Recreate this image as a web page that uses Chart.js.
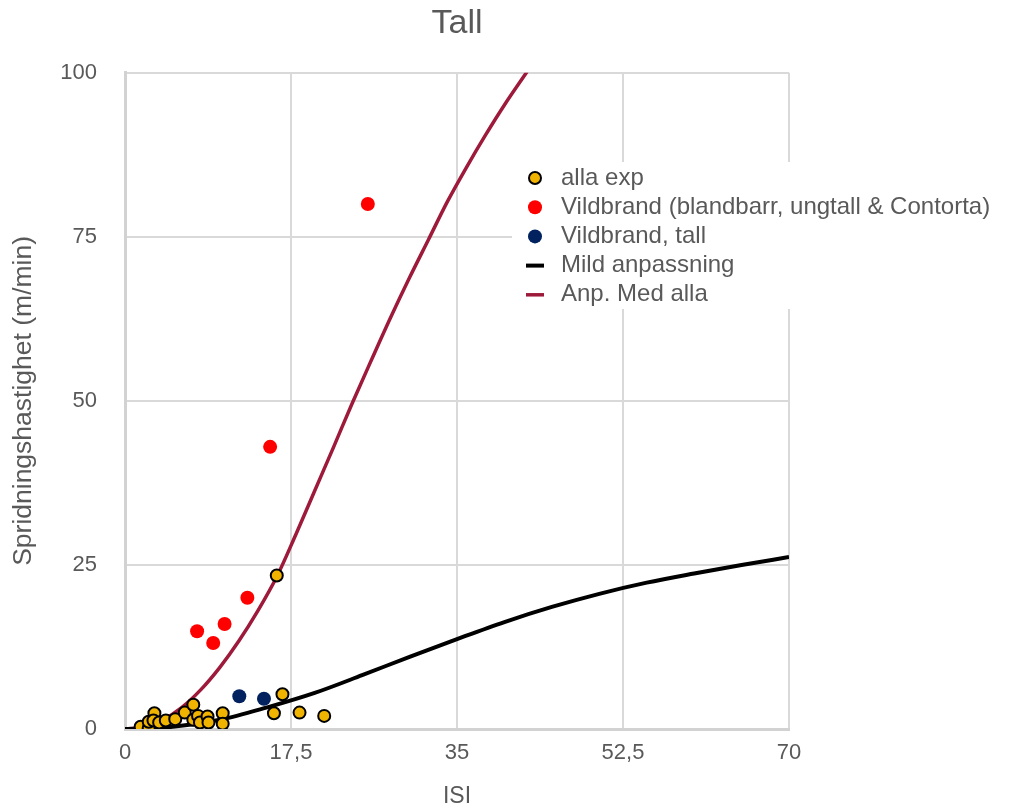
<!DOCTYPE html>
<html>
<head>
<meta charset="utf-8">
<script src="https://cdn.jsdelivr.net/npm/chart.js@4"></script>
<style>
  html, body { margin: 0; padding: 0; background: #fff; }
  #wrap { width: 1010px; height: 810px; }
</style>
</head>
<body>
<div id="wrap"><canvas id="chart" width="1010" height="810"></canvas></div>
<script>
// tick labels (Swedish decimal comma)
const xTicks = [0, 17.5, 35, 52.5, 70];
const xTickLabels = ['0', '17,5', '35', '52,5', '70'];
const yTicks = [0, 25, 50, 75, 100];

// alla exp
const allaX = [1.65, 2.5, 2.5, 3.1, 3.0, 3.6, 4.3, 5.3, 6.3, 7.2, 7.2, 7.7, 7.9, 8.7, 8.8, 10.3, 10.3, 15.7, 16.6, 18.4, 21.0, 16.0];
const allaY = [0.35, 0.15, 1.1, 2.4, 1.3, 1.0, 1.3, 1.5, 2.5, 3.7, 1.4, 2.0, 1.0, 1.9, 1.0, 2.4, 0.8, 2.4, 5.3, 2.5, 2.0, 23.4];

// Vildbrand (blandbarr, ungtall & Contorta)
const blandX = [25.6, 15.3, 12.9, 10.5, 7.6, 9.3];
const blandY = [80.0, 43.0, 20.0, 16.0, 14.9, 13.1];

// Vildbrand, tall
const tallX = [12.05, 14.65];
const tallY = [5.0, 4.6];

// Mild anpassning
const mildX = [0, 5, 10, 15, 20, 25, 30, 35, 40, 45, 50, 55, 60, 65, 70];
const mildY = [0, 0.35, 1.4, 3.3, 5.5, 8.2, 11.0, 13.7, 16.3, 18.6, 20.6, 22.3, 23.7, 25.0, 26.2];

// Anp. Med alla
const anpX = [0, 2, 4, 6, 8, 10, 12, 14, 16, 18, 20, 22, 24, 26, 28, 30, 32, 34, 36, 38, 40, 42.4];
const anpY = [0, 0.3, 1.4, 3.3, 6.0, 9.4, 13.4, 18.0, 23.2, 29.6, 36.3, 43.0, 49.8, 56.3, 62.7, 68.8, 74.6, 80.4, 85.6, 90.5, 95.1, 100.2];

const toPoints = (xs, ys) => xs.map((x, i) => ({ x: x, y: ys[i] }));

const textColor = '#595959';
const fontFamily = 'Helvetica, Arial, "Liberation Sans", sans-serif';

// legend drawn inside the plot with a white box, like the original
const boxLegend = {
  id: 'boxLegend',
  afterDraw(chart) {
    const ctx = chart.ctx;
    const left = 512, top = 162;
    ctx.save();
    ctx.fillStyle = '#ffffff';
    ctx.fillRect(left, top, 495, 147);
    ctx.font = '24px ' + fontFamily;
    ctx.textBaseline = 'middle';
    ctx.textAlign = 'left';
    chart.data.datasets.forEach((ds, i) => {
      const y = top + 16 + i * 29.2;
      const mx = 535;
      if (ds.showLine) {
        ctx.strokeStyle = ds.borderColor;
        ctx.lineWidth = ds.borderWidth;
        ctx.beginPath();
        ctx.moveTo(mx - 9, y);
        ctx.lineTo(mx + 9, y);
        ctx.stroke();
      } else {
        ctx.beginPath();
        ctx.arc(mx, y, ds.pointRadius, 0, Math.PI * 2);
        ctx.fillStyle = ds.backgroundColor;
        ctx.fill();
        if (ds.pointBorderWidth) {
          ctx.lineWidth = ds.pointBorderWidth;
          ctx.strokeStyle = ds.borderColor;
          ctx.stroke();
        }
      }
      ctx.fillStyle = textColor;
      ctx.fillText(ds.label, 561, y);
    });
    ctx.restore();
  }
};

new Chart(document.getElementById('chart'), {
  type: 'scatter',
  data: {
    datasets: [
      {
        label: 'alla exp',
        data: toPoints(allaX, allaY),
        backgroundColor: '#F0B400',
        borderColor: '#000000',
        pointRadius: 6,
        pointBorderWidth: 2,
        pointHoverRadius: 6,
      },
      {
        label: 'Vildbrand (blandbarr, ungtall & Contorta)',
        data: toPoints(blandX, blandY),
        backgroundColor: '#FF0000',
        borderColor: '#FF0000',
        pointRadius: 7,
        pointBorderWidth: 0,
      },
      {
        label: 'Vildbrand, tall',
        data: toPoints(tallX, tallY),
        backgroundColor: '#01215F',
        borderColor: '#01215F',
        pointRadius: 7,
        pointBorderWidth: 0,
      },
      {
        label: 'Mild anpassning',
        data: toPoints(mildX, mildY),
        showLine: true,
        borderColor: '#000000',
        backgroundColor: '#000000',
        borderWidth: 4,
        pointRadius: 0,
        cubicInterpolationMode: 'monotone',
      },
      {
        label: 'Anp. Med alla',
        data: toPoints(anpX, anpY),
        showLine: true,
        borderColor: '#9E1A3A',
        backgroundColor: '#9E1A3A',
        borderWidth: 3.5,
        pointRadius: 0,
        cubicInterpolationMode: 'monotone',
      },
    ],
  },
  options: {
    responsive: false,
    animation: false,
    layout: { padding: { left: 0, right: 221, top: 0, bottom: 0 } },
    plugins: {
      legend: { display: false },
      tooltip: { enabled: false },
      title: {
        display: true,
        text: 'Tall',
        fullSize: false,
        color: textColor,
        font: { family: fontFamily, size: 34, weight: 'normal' },
        padding: { top: 3, bottom: 29 },
      },
    },
    scales: {
      x: {
        type: 'linear',
        min: 0,
        max: 70,
        afterBuildTicks: (scale) => {
          scale.ticks = xTicks.map((v) => ({ value: v }));
        },
        afterFit: (scale) => { scale.height = 81; },
        ticks: {
          color: textColor,
          font: { family: fontFamily, size: 22 },
          padding: 11,
          maxRotation: 0,
          callback: (value) => xTickLabels[xTicks.indexOf(value)],
        },
        grid: { color: '#d9d9d9', lineWidth: 2, drawTicks: false },
        border: { color: '#d2d2d2', width: 3 },
        title: {
          display: true,
          text: 'ISI',
          color: textColor,
          font: { family: fontFamily, size: 23 },
          padding: { top: 0, bottom: 0 },
        },
      },
      y: {
        min: 0,
        max: 100,
        afterBuildTicks: (scale) => {
          scale.ticks = yTicks.map((v) => ({ value: v }));
        },
        afterFit: (scale) => { scale.width = 125; },
        ticks: {
          color: textColor,
          font: { family: fontFamily, size: 22 },
          padding: 28,
        },
        grid: { color: '#d9d9d9', lineWidth: 2, drawTicks: false },
        border: { color: '#d2d2d2', width: 3 },
        title: {
          display: true,
          text: 'Spridningshastighet (m/min)',
          color: textColor,
          font: { family: fontFamily, size: 26.5 },
          padding: { top: 8, bottom: 0 },
        },
      },
    },
  },
  plugins: [boxLegend],
});
</script>
</body>
</html>
